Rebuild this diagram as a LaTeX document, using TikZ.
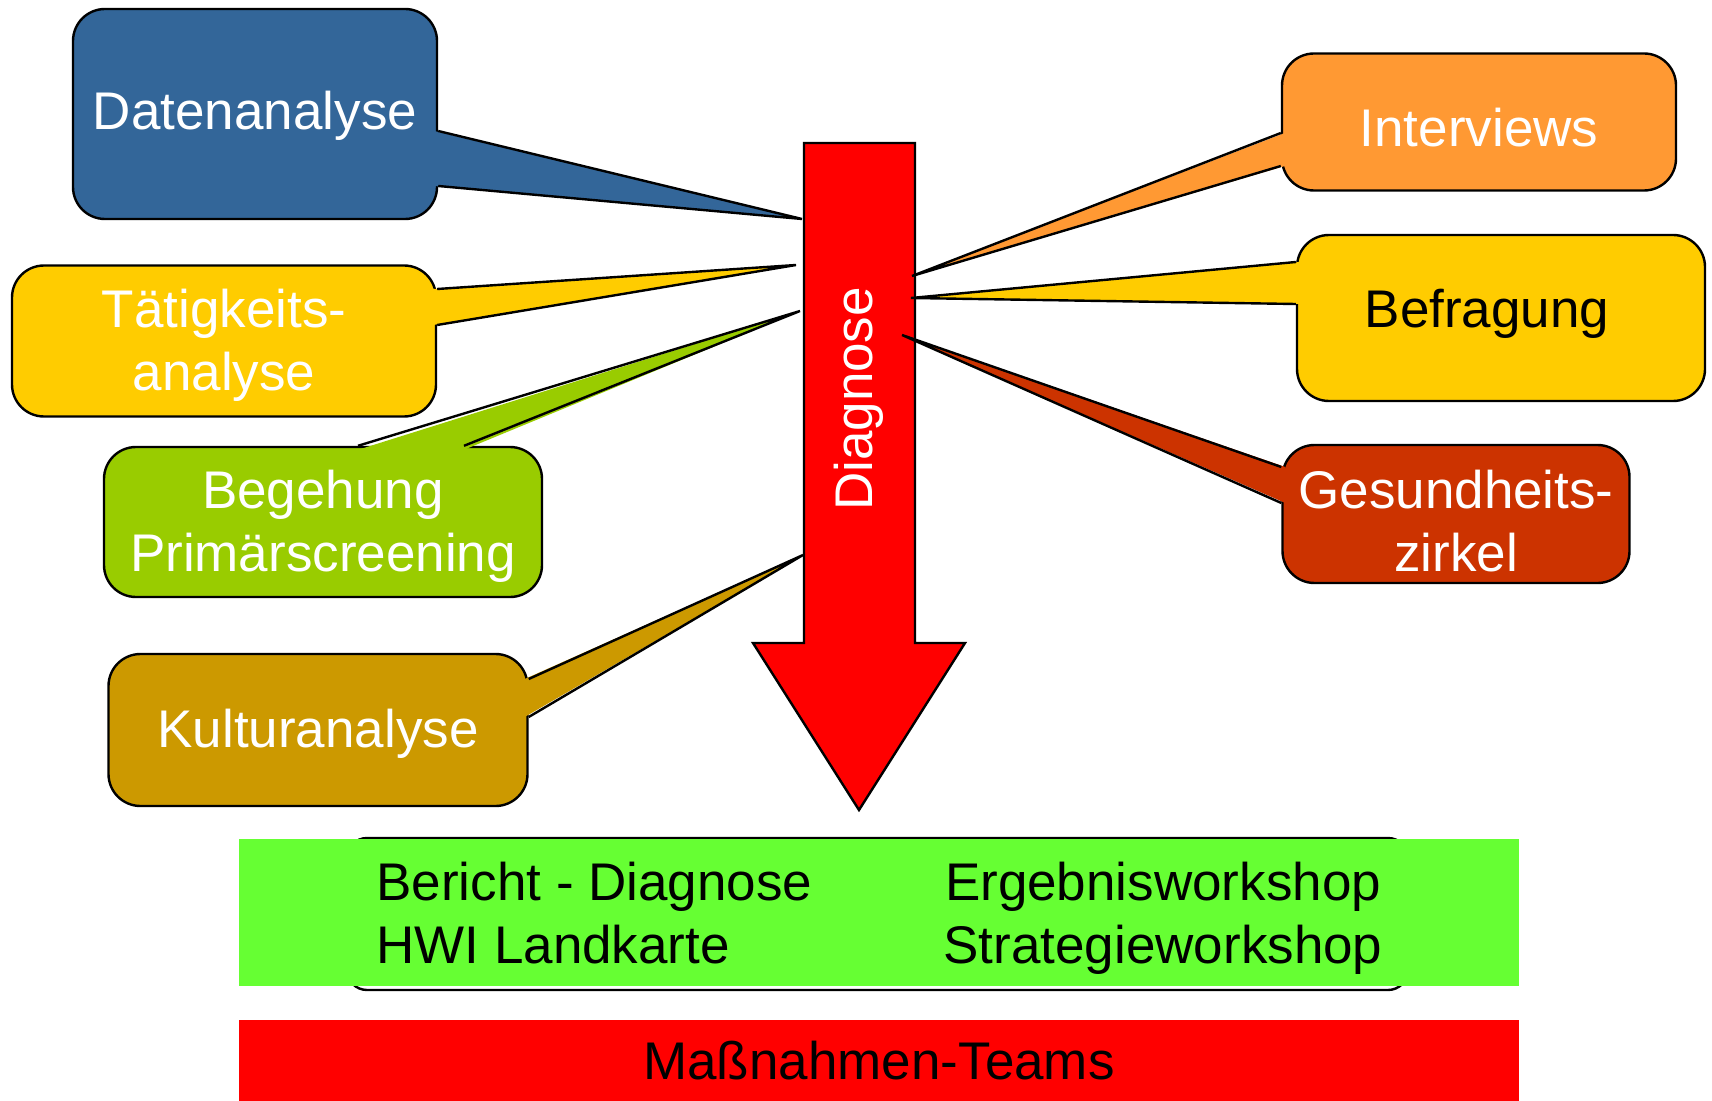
\documentclass[tikz,border=0pt]{standalone}
\usepackage{fontspec}
\setmainfont{Liberation Sans}
\usetikzlibrary{calc}

\definecolor{datblue}{HTML}{336699}
\definecolor{taetyellow}{HTML}{FFCC00}
\definecolor{beggreen}{HTML}{99CC00}
\definecolor{kultbrown}{HTML}{CC9900}
\definecolor{intorange}{HTML}{FF9933}
\definecolor{befyellow}{HTML}{FFCC00}
\definecolor{gesred}{HTML}{CC3300}
\definecolor{diagred}{HTML}{FF0000}
\definecolor{resgreen}{HTML}{66FF33}

\newcommand\bigfont{\fontsize{26.5pt}{31.5pt}\selectfont}
% tail of a callout: colour, first base, second base, tip, inward shift
\newcommand\calltail[5]{%
	\fill[#1] ($(#2)+(#5)$) -- (#4) -- ($(#3)+(#5)$) -- cycle;
	\draw[outline] (#2) -- (#4) -- (#3);}

\begin{document}
\begin{tikzpicture}[x=0.5pt,y=-0.5pt,
	outline/.style={line width=1.2pt},
	callout/.style={draw,outline,rounded corners=16pt,inner sep=0pt},
	calltext/.style={text=white,align=center,inner sep=0pt,font=\bigfont},
	bar/.style={inner sep=0pt,font=\bigfont}]
	\useasboundingbox (0,0) rectangle (1712,1101);
	
	%Diagnose arrow
	\filldraw[fill=diagred,outline] (804,143) -- (915,143) -- (915,643) -- (965,643) -- (859,810) -- (753,643) -- (804,643) -- cycle;
	\node[rotate=90,text=white,font=\bigfont] (diag) at (859,399) {Diagnose};
	
	%tips on the arrow
	\coordinate (tdat) at (802,219);
	\coordinate (ttaet) at (796,265);
	\coordinate (tbeg) at (800,311);
	\coordinate (tkult) at (803,555);
	\coordinate (tint) at (912,276);
	\coordinate (tbef) at (911,298);
	\coordinate (tges) at (902,335);
	
	%left callouts
	\node[callout,fill=datblue,minimum width=182pt,minimum height=105pt] (dat) at (255,114) {};
	\node[callout,fill=taetyellow,minimum width=212pt,minimum height=75.5pt] (taet) at (224,341) {};
	\node[callout,fill=beggreen,minimum width=219pt,minimum height=75pt] (beg) at (323,522) {};
	\node[callout,fill=kultbrown,minimum width=209.5pt,minimum height=76pt] (kult) at (318,730) {};
	
	%right callouts
	\node[callout,fill=intorange,minimum width=197pt,minimum height=68.5pt] (int) at (1479,122) {};
	\node[callout,fill=befyellow,minimum width=204pt,minimum height=83pt] (bef) at (1501,318) {};
	\node[callout,fill=gesred,minimum width=173.5pt,minimum height=69pt] (ges) at (1456,514) {};
	
	%tails
	\calltail{datblue}{dat.east |- 0,131}{dat.east |- 0,186}{tdat}{-2pt,0pt}
	\calltail{taetyellow}{taet.east |- 0,289}{taet.east |- 0,325}{ttaet}{-2pt,0pt}
	\calltail{beggreen}{beg.north -| 358,0}{beg.north -| 464,0}{tbeg}{0pt,-2pt}
	\calltail{kultbrown}{kult.east |- 0,679}{kult.east |- 0,717}{tkult}{-2pt,0pt}
	\calltail{intorange}{int.west |- 0,133}{int.west |- 0,166}{tint}{2pt,0pt}
	\calltail{befyellow}{bef.west |- 0,262}{bef.west |- 0,304}{tbef}{2pt,0pt}
	\calltail{gesred}{ges.west |- 0,467}{ges.west |- 0,503}{tges}{2pt,0pt}
	
	%labels
	\node[calltext] (datlbl) at ([yshift=-1pt]dat) {Datenanalyse};
	\node[calltext] (taetlbl) at ([yshift=-2.2pt]taet) {Tätigkeits-\\analyse};
	\node[calltext] (beglbl) at ([yshift=-2pt]beg) {Begehung\\Primärscreening};
	\node[calltext] (kultlbl) at ([yshift=-2pt]kult) {Kulturanalyse};
	\node[calltext] (intlbl) at ([yshift=-2.7pt]int) {Interviews};
	\node[calltext,text=black] (beflbl) at ([xshift=-7pt,yshift=2pt]bef) {Befragung};
	\node[calltext] (geslbl) at ([yshift=-3.3pt]ges) {Gesundheits-\\zirkel};
	
	%results
	\node[draw,outline,fill=white,rounded corners=10pt,inner sep=0pt,minimum width=530.5pt,minimum height=76pt] (resback) at (877.5,914) {};
	\node[bar,fill=resgreen,minimum width=640pt,minimum height=73.5pt] (res) at (879,912.5) {};
	\node[bar,align=left,anchor=west] (repl) at (376,913) {Bericht - Diagnose\\HWI Landkarte};
	\node[bar,align=center] (ws) at (1163,918.5) {Ergebnisworkshop\\Strategieworkshop};
	
	%teams
	\node[bar,fill=diagred,minimum width=640pt,minimum height=40.5pt] (team) at (879,1060.5) {Maßnahmen-Teams};
\end{tikzpicture}
\end{document}
